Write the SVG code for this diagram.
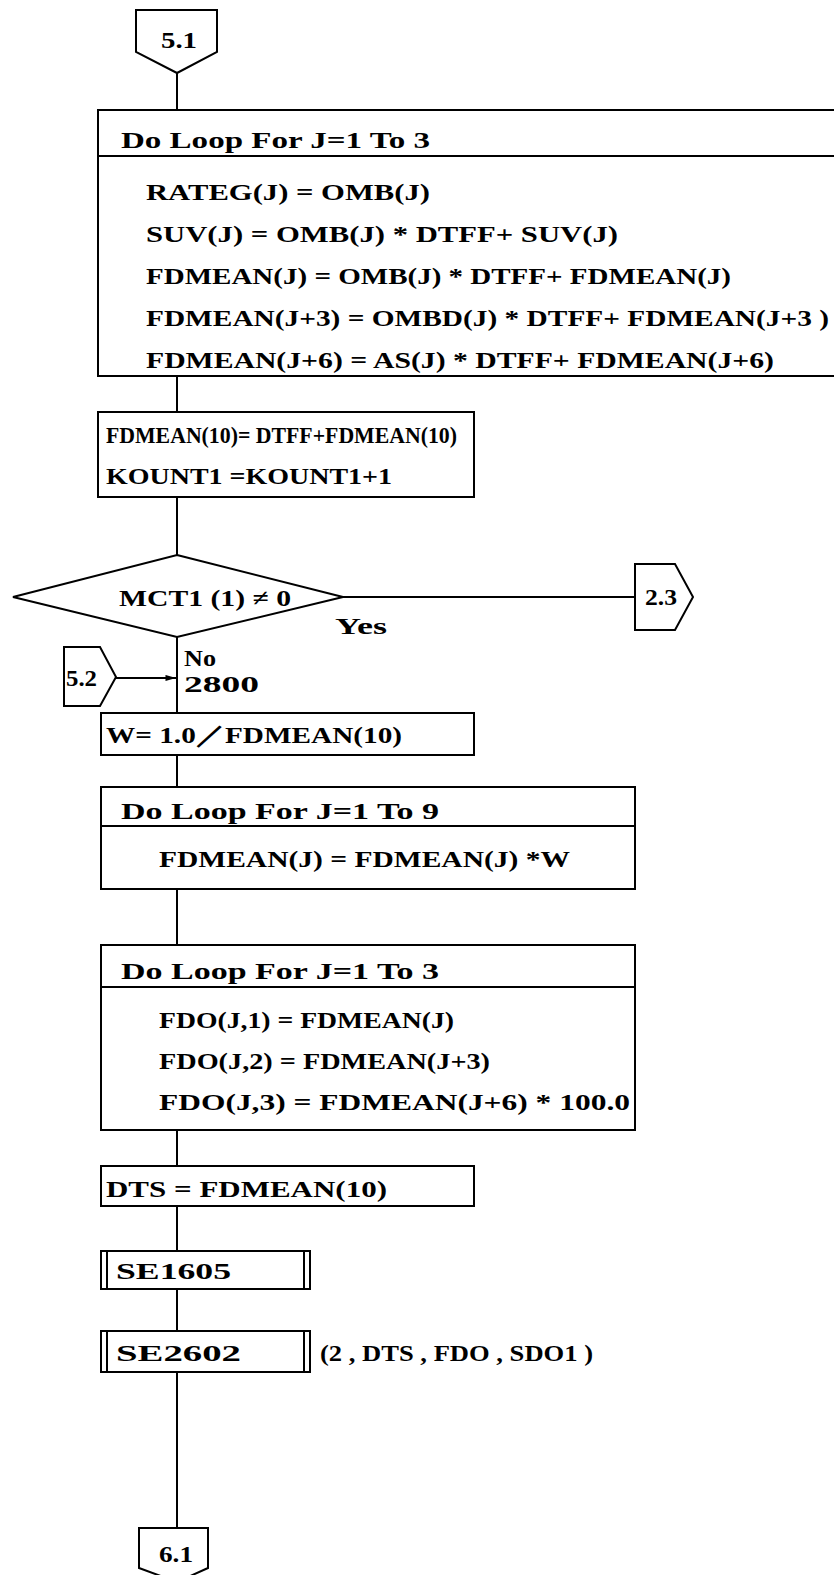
<svg xmlns="http://www.w3.org/2000/svg" width="834" height="1575" viewBox="0 0 834 1575">
<style>
.s{fill:#fff;stroke:#000;stroke-width:2}
.l{fill:none;stroke:#000;stroke-width:2}
text{font-family:"Liberation Serif","DejaVu Serif",serif;font-weight:bold;font-size:24px;fill:#000}
</style>
<defs>
<marker id="ar" viewBox="0 0 12 8" refX="12" refY="4" markerWidth="12" markerHeight="7" orient="auto" markerUnits="userSpaceOnUse">
<path d="M0,0.5 L12,4 L0,7.5 z" fill="#000"/>
</marker>
</defs>
<rect width="834" height="1575" fill="#fff"/>
<g id="connectors">
<line class="l" x1="177" y1="73" x2="177" y2="110"/>
<line class="l" x1="177" y1="376" x2="177" y2="412"/>
<line class="l" x1="177" y1="497" x2="177" y2="555"/>
<line class="l" x1="343" y1="597" x2="635" y2="597"/>
<line class="l" x1="177" y1="637" x2="177" y2="713"/>
<line class="l" x1="116" y1="678" x2="176" y2="678" marker-end="url(#ar)"/>
<line class="l" x1="177" y1="755" x2="177" y2="787"/>
<line class="l" x1="177" y1="889" x2="177" y2="945"/>
<line class="l" x1="177" y1="1130" x2="177" y2="1166"/>
<line class="l" x1="177" y1="1206" x2="177" y2="1251"/>
<line class="l" x1="177" y1="1289" x2="177" y2="1331"/>
<line class="l" x1="177" y1="1372" x2="177" y2="1528"/>
</g>
<g id="c51">
<path class="s" d="M136,10 H217 V52 L177,73 L136,52 Z"/>
<text x="161" y="48" textLength="36" lengthAdjust="spacingAndGlyphs">5.1</text>
</g>
<g id="loop1">
<rect class="s" x="98" y="110" width="745" height="266"/>
<line class="l" x1="98" y1="156" x2="843" y2="156"/>
<text x="121" y="148" textLength="309" lengthAdjust="spacingAndGlyphs">Do Loop For J=1 To 3</text>
<text x="146" y="200" textLength="284" lengthAdjust="spacingAndGlyphs">RATEG(J) = OMB(J)</text>
<text x="146" y="242" textLength="472" lengthAdjust="spacingAndGlyphs">SUV(J) = OMB(J) * DTFF+ SUV(J)</text>
<text x="146" y="284" textLength="585" lengthAdjust="spacingAndGlyphs">FDMEAN(J) = OMB(J) * DTFF+ FDMEAN(J)</text>
<text x="146" y="326" textLength="683" lengthAdjust="spacingAndGlyphs">FDMEAN(J+3) = OMBD(J) * DTFF+ FDMEAN(J+3 )</text>
<text x="146" y="368" textLength="628" lengthAdjust="spacingAndGlyphs">FDMEAN(J+6) = AS(J) * DTFF+ FDMEAN(J+6)</text>
</g>
<g id="box2">
<rect class="s" x="98" y="412" width="376" height="85"/>
<text x="106" y="443" textLength="351" lengthAdjust="spacingAndGlyphs">FDMEAN(10)= DTFF+FDMEAN(10)</text>
<text x="106" y="484" textLength="286" lengthAdjust="spacingAndGlyphs">KOUNT1 =KOUNT1+1</text>
</g>
<g id="dec">
<path class="s" d="M177,555 L343,597 L177,637 L13,597 Z"/>
<text x="119" y="606" textLength="172" lengthAdjust="spacingAndGlyphs">MCT1 (1) ≠ 0</text>
<text x="335" y="634" textLength="52" lengthAdjust="spacingAndGlyphs">Yes</text>
<text x="184" y="666" textLength="32" lengthAdjust="spacingAndGlyphs">No</text>
<text x="184" y="692" textLength="75" lengthAdjust="spacingAndGlyphs">2800</text>
</g>
<g id="c23">
<path class="s" d="M635,564 H675 L693,597 L675,630 H635 Z"/>
<text x="645" y="605" textLength="32" lengthAdjust="spacingAndGlyphs">2.3</text>
</g>
<g id="c52">
<path class="s" d="M64,647 H100 L116,677 L100,706 H64 Z"/>
<text x="66" y="686" textLength="31" lengthAdjust="spacingAndGlyphs">5.2</text>
</g>
<g id="box3">
<rect class="s" x="101" y="713" width="373" height="42"/>
<text x="106" y="743" textLength="296" lengthAdjust="spacingAndGlyphs">W= 1.0／FDMEAN(10)</text>
</g>
<g id="loop2">
<rect class="s" x="101" y="787" width="534" height="102"/>
<line class="l" x1="101" y1="826" x2="635" y2="826"/>
<text x="121" y="819" textLength="318" lengthAdjust="spacingAndGlyphs">Do Loop For J=1 To 9</text>
<text x="159" y="867" textLength="411" lengthAdjust="spacingAndGlyphs">FDMEAN(J) = FDMEAN(J) *W</text>
</g>
<g id="loop3">
<rect class="s" x="101" y="945" width="534" height="185"/>
<line class="l" x1="101" y1="987" x2="635" y2="987"/>
<text x="121" y="979" textLength="318" lengthAdjust="spacingAndGlyphs">Do Loop For J=1 To 3</text>
<text x="159" y="1028" textLength="295" lengthAdjust="spacingAndGlyphs">FDO(J,1) = FDMEAN(J)</text>
<text x="159" y="1069" textLength="331" lengthAdjust="spacingAndGlyphs">FDO(J,2) = FDMEAN(J+3)</text>
<text x="159" y="1110" textLength="471" lengthAdjust="spacingAndGlyphs">FDO(J,3) = FDMEAN(J+6) * 100.0</text>
</g>
<g id="box6">
<rect class="s" x="101" y="1166" width="373" height="40"/>
<text x="106" y="1197" textLength="281" lengthAdjust="spacingAndGlyphs">DTS = FDMEAN(10)</text>
</g>
<g id="se1605">
<rect class="s" x="101" y="1251" width="209" height="38"/>
<line class="l" x1="107" y1="1251" x2="107" y2="1289"/>
<line class="l" x1="304" y1="1251" x2="304" y2="1289"/>
<text x="116" y="1279" textLength="115" lengthAdjust="spacingAndGlyphs">SE1605</text>
</g>
<g id="se2602">
<rect class="s" x="101" y="1331" width="209" height="41"/>
<line class="l" x1="107" y1="1331" x2="107" y2="1372"/>
<line class="l" x1="304" y1="1331" x2="304" y2="1372"/>
<text x="116" y="1361" textLength="125" lengthAdjust="spacingAndGlyphs">SE2602</text>
<text x="320" y="1361" textLength="273" lengthAdjust="spacingAndGlyphs">(2 , DTS , FDO , SDO1 )</text>
</g>
<g id="c61">
<path class="s" d="M139,1528 H208 V1568 L177,1582 L139,1568 Z"/>
<text x="159" y="1562" textLength="34" lengthAdjust="spacingAndGlyphs">6.1</text>
</g>
</svg>
